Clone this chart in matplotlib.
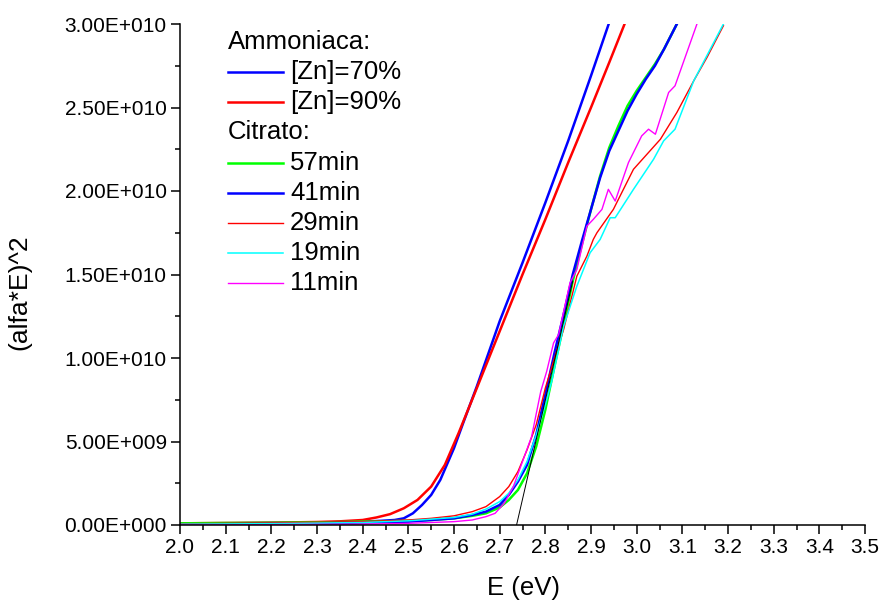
import numpy as np
import matplotlib
matplotlib.use("Agg")
import matplotlib.pyplot as plt
from matplotlib.ticker import MultipleLocator, FuncFormatter

plt.rcParams['font.family'] = ['Liberation Sans', 'DejaVu Sans']

# Ammoniaca, [Zn]=70%  (y in units of 1e9)
x_zn70 = [2.0, 2.1, 2.2, 2.3, 2.35, 2.4, 2.44, 2.47, 2.49, 2.51, 2.53, 2.55, 2.57, 2.6,
          2.62, 2.65, 2.7, 2.75, 2.8, 2.85, 2.9, 2.94]
y_zn70 = [0.08, 0.1, 0.12, 0.15, 0.17, 0.2, 0.25, 0.3, 0.4, 0.7, 1.2, 1.8, 2.7, 4.6,
          6.1, 8.3, 12.2, 15.7, 19.3, 23.0, 26.9, 30.1]

# Ammoniaca, [Zn]=90%
x_zn90 = [2.0, 2.1, 2.2, 2.3, 2.35, 2.4, 2.43, 2.46, 2.49, 2.52, 2.55, 2.58, 2.61, 2.65,
          2.7, 2.75, 2.8, 2.85, 2.9, 2.94, 2.975]
y_zn90 = [0.1, 0.12, 0.14, 0.18, 0.22, 0.3, 0.45, 0.65, 1.0, 1.5, 2.3, 3.6, 5.5, 8.2,
          11.6, 15.0, 18.3, 21.7, 25.0, 27.7, 30.1]

# Citrato
x_57 = [2.0, 2.1, 2.2, 2.3, 2.4, 2.5, 2.55, 2.6, 2.64, 2.67, 2.7, 2.72, 2.74, 2.76, 2.78,
        2.8, 2.82, 2.84, 2.86, 2.88, 2.9, 2.92, 2.94, 2.96, 2.98, 3.0, 3.02, 3.04, 3.06, 3.088]
y_57 = [0.1, 0.12, 0.13, 0.15, 0.2, 0.25, 0.3, 0.4, 0.55, 0.7, 1.05, 1.5, 2.1, 3.1, 4.7,
        6.9, 9.5, 12.0, 14.6, 16.8, 18.9, 20.9, 22.6, 23.9, 25.1, 26.0, 26.8, 27.6, 28.5, 30.0]

x_41 = [2.0, 2.1, 2.2, 2.3, 2.4, 2.5, 2.55, 2.6, 2.64, 2.67, 2.7, 2.72, 2.74, 2.76, 2.78,
        2.8, 2.82, 2.84, 2.86, 2.88, 2.9, 2.92, 2.94, 2.96, 2.98, 3.0, 3.02, 3.04, 3.06, 3.088]
y_41 = [0.03, 0.05, 0.07, 0.1, 0.15, 0.2, 0.3, 0.4, 0.6, 0.8, 1.2, 1.8, 2.6, 3.6, 5.4,
        7.8, 10.3, 12.6, 15.0, 17.0, 18.9, 20.8, 22.4, 23.6, 24.8, 25.8, 26.7, 27.5, 28.5, 30.0]

x_29 = [2.0, 2.2, 2.4, 2.5, 2.55, 2.6, 2.64, 2.67, 2.7, 2.72, 2.74, 2.76, 2.78, 2.8, 2.82,
        2.84, 2.869, 2.891, 2.905, 2.913, 2.949, 2.993, 3.052, 3.088, 3.125, 3.154, 3.19]
y_29 = [0.08, 0.12, 0.2, 0.3, 0.4, 0.55, 0.8, 1.1, 1.7, 2.3, 3.2, 4.5, 6.0, 8.2, 10.0,
        11.7, 14.9, 16.1, 17.1, 17.5, 18.9, 21.3, 23.1, 24.7, 26.6, 28.0, 29.9]

x_19 = [2.0, 2.2, 2.4, 2.5, 2.6, 2.64, 2.67, 2.7, 2.72, 2.74, 2.76, 2.78, 2.8, 2.814, 2.84,
        2.869, 2.898, 2.92, 2.942, 2.953, 2.993, 3.037, 3.059, 3.084, 3.125, 3.19]
y_19 = [0.05, 0.08, 0.15, 0.25, 0.45, 0.65, 0.95, 1.4, 1.9, 2.7, 3.8, 5.4, 7.2, 8.6, 11.9,
        14.3, 16.3, 17.1, 18.4, 18.4, 20.1, 21.9, 23.0, 23.7, 26.6, 30.0]

x_11 = [2.0, 2.2, 2.4, 2.5, 2.6, 2.64, 2.67, 2.69, 2.71, 2.73, 2.75, 2.77, 2.79, 2.803,
        2.818, 2.829, 2.854, 2.869, 2.891, 2.905, 2.924, 2.938, 2.953, 2.982, 3.011, 3.026,
        3.041, 3.07, 3.084, 3.132]
y_11 = [0.0, 0.02, 0.05, 0.1, 0.2, 0.3, 0.5, 0.7, 1.3, 2.3, 3.8, 5.3, 8.0, 9.2,
        10.9, 11.4, 14.5, 15.3, 17.9, 18.3, 18.9, 20.1, 19.4, 21.7, 23.3, 23.7,
        23.4, 25.9, 26.3, 30.0]

# tangent line for the band gap
x_fit = [2.737, 2.86]
y_fit = [0.0, 14.6]

series = [
    (x_zn70, y_zn70, '#0000ff', 1.8, '[Zn]=70%'),
    (x_zn90, y_zn90, '#ff0000', 1.8, '[Zn]=90%'),
    (x_57, y_57, '#00ff00', 1.8, '57min'),
    (x_41, y_41, '#0000ff', 1.8, '41min'),
    (x_29, y_29, '#ff0000', 1.0, '29min'),
    (x_19, y_19, '#00ffff', 1.1, '19min'),
    (x_11, y_11, '#ff00ff', 1.0, '11min'),
]

fig = plt.figure(figsize=(8.8, 6.01), dpi=100)
ax = fig.add_axes([180 / 880, 76 / 601, 685 / 880, 501 / 601])

for xs, ys, c, lw, lab in series:
    ax.plot(xs, np.array(ys) * 1e9, color=c, lw=lw)
ax.plot(x_fit, np.array(y_fit) * 1e9, color='black', lw=0.7)

ax.set_xlim(2.0, 3.5)
ax.set_ylim(0, 3e10)
ax.spines['top'].set_visible(False)
ax.spines['right'].set_visible(False)
for s in ['left', 'bottom']:
    ax.spines[s].set_linewidth(1.1)

ax.xaxis.set_major_locator(MultipleLocator(0.1))
ax.xaxis.set_minor_locator(MultipleLocator(0.05))
ax.yaxis.set_major_locator(MultipleLocator(5e9))
ax.yaxis.set_minor_locator(MultipleLocator(2.5e9))
ax.xaxis.set_major_formatter(FuncFormatter(lambda v, p: f"{v:.1f}"))


def sci(v, p):
    if abs(v) < 1:
        return "0.00E+000"
    e = int(np.floor(np.log10(abs(v))))
    m = v / 10 ** e
    return f"{m:.2f}E+{e:03d}"


ax.yaxis.set_major_formatter(FuncFormatter(sci))
ax.tick_params(which='major', direction='out', length=6.5, width=1.1, labelsize=15, pad=3)
ax.tick_params(which='minor', direction='out', length=3.5, width=1.1)

fig.text(523 / 880, 1 - 595 / 601, "E (eV)", ha='center', va='baseline', fontsize=18.5)
fig.text(19 / 880, 1 - 292 / 601, "(alfa*E)^2", ha='center', va='center',
         rotation=90, fontsize=19)

# legend drawn by hand: two group headers with entries below
rows = [("Ammoniaca:", None)] + [(s[4], s) for s in series[:2]] + \
       [("Citrato:", None)] + [(s[4], s) for s in series[2:]]
ty = [42, 72, 102, 132, 163, 193, 223, 253, 283]
for (lab, s), py in zip(rows, ty):
    yy = (525 - py) / 501
    if s is None:
        ax.text((228 - 180) / 685, yy, lab, transform=ax.transAxes,
                fontsize=18.5, va='center', ha='left')
    else:
        ax.plot([(228 - 180) / 685, (283 - 180) / 685], [yy, yy], color=s[2], lw=s[3],
                transform=ax.transAxes, clip_on=False)
        ax.text((290 - 180) / 685, yy, lab, transform=ax.transAxes,
                fontsize=18.5, va='center', ha='left')

fig.savefig("out.png", dpi=100)
